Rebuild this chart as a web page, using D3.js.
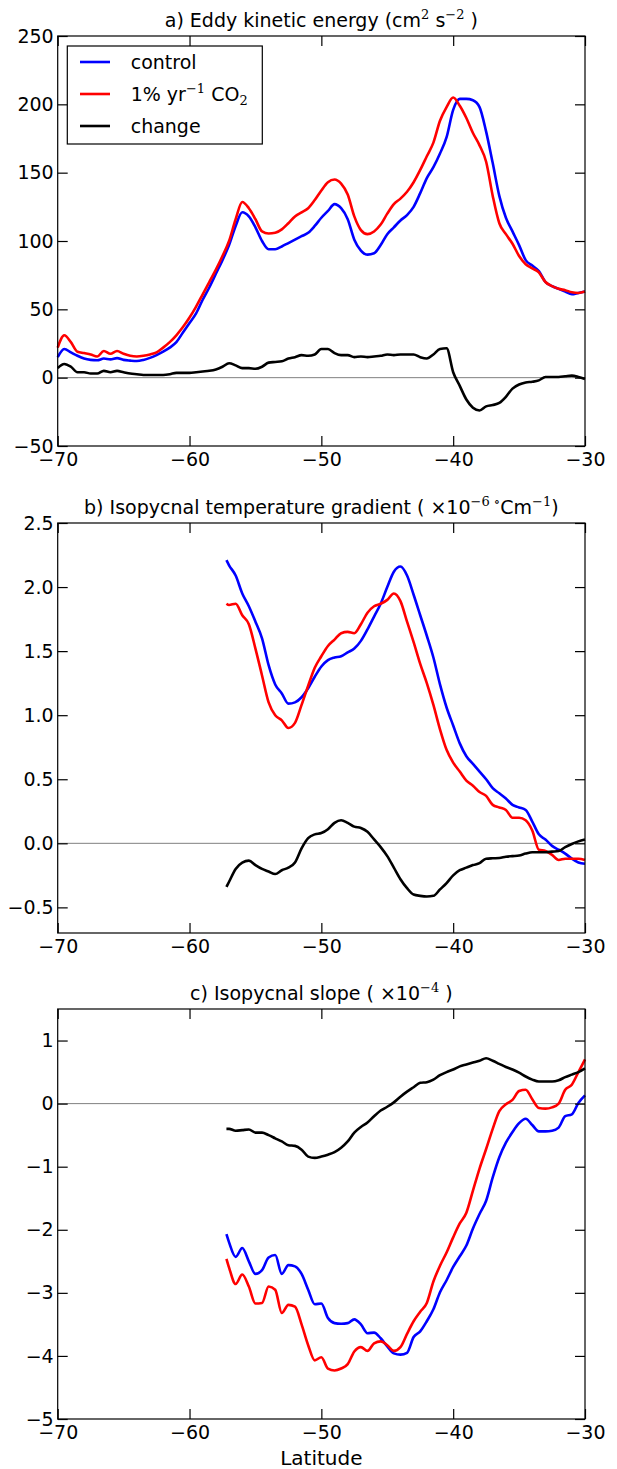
<!DOCTYPE html>
<html>
<head>
<meta charset="utf-8">
<script src="https://cdn.jsdelivr.net/npm/d3@7"></script>
<style>
  body { margin: 0; background: #fff; }
  svg { font-family: "DejaVu Sans", sans-serif; }
</style>
</head>
<body>
<div id="chart"></div>
<script>
// latitude grids
const latA = [-70,-69.5,-69,-68.5,-68,-67.5,-67,-66.5,-66,-65.5,-65,-64.5,-64,-63.5,-63,-62.5,-62,-61.5,-61,-60.5,
  -60,-59.5,-59,-58.5,-58,-57.5,-57,-56.5,-56,-55.5,-55,-54.5,-54,-53.5,-53,-52.5,-52,-51.5,-51,-50.5,
  -50,-49.5,-49,-48.5,-48,-47.5,-47,-46.5,-46,-45.5,-45,-44.5,-44,-43.5,-43,-42.5,-42,-41.5,-41,-40.5,
  -40,-39.5,-39,-38.5,-38,-37.5,-37,-36.5,-36,-35.5,-35,-34.5,-34,-33.5,-33,-32.5,-32,-31.5,-31,-30.5,-30];
const latB = [-57.2,-57,-56.5,-56,-55.5,-55,-54.5,-54,-53.5,-53,-52.5,-52,-51.5,-51,-50.5,-50,-49.5,-49,-48.5,-48,
  -47.5,-47,-46.5,-46,-45.5,-45,-44.5,-44,-43.5,-43,-42.5,-42,-41.5,-41,-40.5,-40,-39.5,-39,-38.5,-38,
  -37.5,-37,-36.5,-36,-35.5,-35,-34.5,-34,-33.5,-33,-32.5,-32,-31.5,-31,-30.5,-30];
const latC = latB;

// a) eddy kinetic energy
const ekeControl = [15,21,18.5,16,14,13,12.7,14,13.4,14.3,
  13,12.5,12.2,13,14.5,16.5,19,22,26,33,
  40,47,57,66,76,86,97,111,121,118,
  110,100,94,94,96,98.5,101,103.5,106,111,
  117,122,127,124,116,101,93,90,91,97,
  105,110,115,119,125,135,146,154,164,176,
  196,204,204,203,198,180,157,133,117,107,
  97,86,82,78,70,67,65,63,61,62,
  63];
const ekeCO2 = [22,31,26,19,18,17,15.5,19.5,17.5,19.5,
  17.5,16,15.5,16,17,18.5,22,26,31,37,
  44,52,61,70,79,89,100,116,128.5,124,
  116,107,105.5,106,108.5,113,118,121,124,130,
  137,143,145,142,134,118,108,105,107,112,
  120,127,131,136,143,152,162,172,188,198,
  205,199,190,179,170,158,133,113,105,98,
  89,83,80,77,70,67,65,64,62.5,62,
  63];
const ekeChange = [7,10,8,4,4,3,3,5,4,5,
  4,3,2.5,2,2,2,2,2.5,3.5,3.5,
  3.5,4,4.5,5,6,8,10.5,9,7,7,
  6.5,8,11,11.5,12,14,15,16.5,16,17,
  21,21,18,16.5,16.5,15,15.5,15,15.5,16,
  17,16.5,17,17,17,15,14,17,21,21.5,
  4,-6,-16,-22,-24,-21,-20,-18.5,-14,-8,
  -5,-3.5,-3,-2,0.5,0.5,0.5,1,1.5,0.5,
  -1];

// b) isopycnal temperature gradient
const gradControl = [2.21,
  2.17,2.09,1.95,1.85,1.73,1.60,1.39,1.24,1.17,1.09,
  1.10,1.14,1.21,1.30,1.38,1.43,1.45,1.46,1.49,1.52,
  1.58,1.67,1.77,1.87,2.00,2.12,2.16,2.09,1.94,1.78,
  1.62,1.45,1.24,1.06,0.92,0.78,0.68,0.62,0.56,0.50,
  0.43,0.39,0.35,0.30,0.28,0.26,0.17,0.07,0.03,-0.02,
  -0.05,-0.08,-0.12,-0.15,-0.16];
const gradCO2 = [1.87,
  1.86,1.87,1.78,1.71,1.52,1.31,1.10,1.00,0.96,0.90,
  0.94,1.08,1.23,1.37,1.46,1.54,1.59,1.64,1.65,1.64,
  1.71,1.80,1.85,1.87,1.90,1.95,1.89,1.73,1.57,1.40,
  1.25,1.08,0.89,0.73,0.63,0.56,0.49,0.45,0.40,0.37,
  0.30,0.28,0.26,0.20,0.20,0.18,0.10,-0.05,-0.06,-0.09,
  -0.13,-0.12,-0.12,-0.12,-0.13];
const gradChange = [-0.34,
  -0.30,-0.20,-0.15,-0.135,-0.17,-0.20,-0.22,-0.24,-0.21,-0.19,
  -0.15,-0.04,0.04,0.07,0.08,0.11,0.16,0.18,0.16,0.13,
  0.12,0.09,0.03,-0.03,-0.10,-0.19,-0.28,-0.35,-0.40,-0.41,
  -0.415,-0.41,-0.36,-0.31,-0.25,-0.21,-0.19,-0.17,-0.155,-0.12,
  -0.117,-0.115,-0.105,-0.10,-0.095,-0.08,-0.07,-0.07,-0.07,-0.065,
  -0.06,-0.03,-0.005,0.015,0.03];

// c) isopycnal slope
const slopeControl = [-2.07,
  -2.20,-2.43,-2.29,-2.50,-2.70,-2.64,-2.44,-2.40,-2.70,-2.56,
  -2.58,-2.70,-2.95,-3.18,-3.17,-3.40,-3.48,-3.49,-3.48,-3.42,
  -3.50,-3.64,-3.63,-3.72,-3.85,-3.96,-3.98,-3.95,-3.70,-3.61,
  -3.45,-3.26,-2.99,-2.80,-2.59,-2.42,-2.25,-1.98,-1.75,-1.54,
  -1.17,-0.85,-0.62,-0.45,-0.31,-0.24,-0.34,-0.44,-0.44,-0.43,
  -0.38,-0.20,-0.17,0.01,0.13];
const slopeCO2 = [-2.46,
  -2.60,-2.86,-2.71,-2.90,-3.17,-3.16,-2.90,-2.95,-3.32,-3.19,
  -3.22,-3.50,-3.83,-4.07,-4.02,-4.20,-4.23,-4.20,-4.13,-3.93,
  -3.86,-3.92,-3.80,-3.77,-3.83,-3.92,-3.86,-3.65,-3.45,-3.30,
  -3.16,-2.82,-2.57,-2.36,-2.12,-1.90,-1.73,-1.38,-1.03,-0.72,
  -0.40,-0.12,-0.01,0.06,0.20,0.22,0.07,-0.07,-0.08,-0.06,
  0.0,0.22,0.30,0.50,0.70];
const slopeChange = [-0.40,
  -0.40,-0.43,-0.42,-0.41,-0.46,-0.46,-0.50,-0.55,-0.60,-0.66,
  -0.67,-0.73,-0.84,-0.86,-0.84,-0.81,-0.77,-0.70,-0.60,-0.46,
  -0.37,-0.30,-0.20,-0.11,-0.05,0.02,0.11,0.19,0.26,0.33,
  0.34,0.38,0.45,0.50,0.54,0.59,0.62,0.65,0.68,0.72,
  0.68,0.63,0.58,0.54,0.49,0.43,0.38,0.35,0.35,0.35,
  0.37,0.42,0.46,0.50,0.56];

// ticks
const xTicks = [-70, -60, -50, -40, -30];
const ekeTicks = [-50, 0, 50, 100, 150, 200, 250];
const gradTicks = [-0.5, 0, 0.5, 1, 1.5, 2, 2.5];
const slopeTicks = [-5, -4, -3, -2, -1, 0, 1];

const width = 617, height = 1469;
const plot = {left: 57.7, right: 585, h: 410};
const fs = 19;
const colors = {control: '#0000ff', co2: '#ff0000', change: '#000000'};

const svg = d3.select('#chart').append('svg')
  .attr('width', width).attr('height', height);

const x = d3.scaleLinear().domain([-70, -30]).range([plot.left, plot.right]);

// text with super/subscripts, parts = [[text, 'sup'|'sub'|undefined], ...]
function richText(sel, parts) {
  let shift = 0;
  parts.forEach(([t, kind]) => {
    const target = kind === 'sup' ? -8 : kind === 'sub' ? 4 : 0;
    const ts = sel.append('tspan').text(t).attr('dy', target - shift);
    if (kind) ts.attr('font-size', 13).attr('font-family', '"DejaVu Serif", serif');
    shift = target;
  });
}

function drawPanel(top, yDomain, yTicks, fmt, lat, series, title) {
  const y = d3.scaleLinear().domain(yDomain).range([top + plot.h, top]);
  const g = svg.append('g');

  g.append('line')
    .attr('x1', plot.left).attr('x2', plot.right)
    .attr('y1', y(0)).attr('y2', y(0))
    .attr('stroke', '#808080').attr('stroke-width', 1);

  const line = d3.line()
    .x((d, i) => x(lat[i]))
    .y(d => y(d))
    .curve(d3.curveMonotoneX);

  series.forEach(s => {
    g.append('path')
      .datum(s.values)
      .attr('d', line)
      .attr('fill', 'none')
      .attr('stroke', s.color)
      .attr('stroke-width', 2.6)
      .attr('stroke-linejoin', 'round');
  });

  const bottom = g.append('g').attr('transform', `translate(0,${top + plot.h})`)
    .call(d3.axisBottom(x).tickValues(xTicks).tickSizeInner(-10).tickSizeOuter(0).tickPadding(7).tickFormat(d3.format('d')));
  const left = g.append('g').attr('transform', `translate(${plot.left},0)`)
    .call(d3.axisLeft(y).tickValues(yTicks).tickSizeInner(-10).tickSizeOuter(0).tickPadding(4).tickFormat(fmt));
  g.append('g').attr('transform', `translate(0,${top})`)
    .call(d3.axisTop(x).tickValues(xTicks).tickSizeInner(-10).tickSizeOuter(0).tickFormat(''));
  g.append('g').attr('transform', `translate(${plot.right},0)`)
    .call(d3.axisRight(y).tickValues(yTicks).tickSizeInner(-10).tickSizeOuter(0).tickFormat(''));

  g.selectAll('.domain').remove();
  g.selectAll('.tick line').attr('stroke', '#000').attr('stroke-width', 1.2);
  [bottom, left].forEach(a => a.selectAll('text')
    .attr('font-size', fs).attr('font-family', '"DejaVu Sans", sans-serif').attr('fill', '#000'));

  g.append('rect')
    .attr('x', plot.left).attr('y', top)
    .attr('width', plot.right - plot.left).attr('height', plot.h)
    .attr('fill', 'none').attr('stroke', '#000').attr('stroke-width', 1.2);

  const t = g.append('text')
    .attr('x', (plot.left + plot.right) / 2).attr('y', top - 9)
    .attr('text-anchor', 'middle').attr('font-size', fs);
  richText(t, title);
  return y;
}

drawPanel(36, [-50, 250], ekeTicks, d3.format('d'), latA, [
  {values: ekeControl, color: colors.control},
  {values: ekeCO2, color: colors.co2},
  {values: ekeChange, color: colors.change}
], [['a) Eddy kinetic energy (cm'], ['2', 'sup'], [' s'], ['\u22122', 'sup'], [' )']]);

drawPanel(523, [-0.7, 2.5], gradTicks, d3.format('.1f'), latB, [
  {values: gradControl, color: colors.control},
  {values: gradCO2, color: colors.co2},
  {values: gradChange, color: colors.change}
], [['b) Isopycnal temperature gradient ( \u00d710'], ['\u22126 \u2218', 'sup'], ['Cm'], ['\u22121', 'sup'], [')']]);

drawPanel(1009, [-5, 1.5], slopeTicks, d3.format('d'), latC, [
  {values: slopeControl, color: colors.control},
  {values: slopeCO2, color: colors.co2},
  {values: slopeChange, color: colors.change}
], [['c) Isopycnal slope ( \u00d710'], ['\u22124', 'sup'], [' )']]);

// legend (panel a)
const legend = svg.append('g');
legend.append('rect')
  .attr('x', 67.3).attr('y', 46).attr('width', 195).attr('height', 98)
  .attr('fill', '#fff').attr('stroke', '#000').attr('stroke-width', 1.2);
const legendItems = [
  {color: colors.control, label: [['control']]},
  {color: colors.co2, label: [['1% yr'], ['\u22121', 'sup'], ['  CO'], ['2', 'sub']]},
  {color: colors.change, label: [['change']]}
];
legendItems.forEach((d, i) => {
  const ly = 62 + i * 32;
  legend.append('line')
    .attr('x1', 80).attr('x2', 110).attr('y1', ly).attr('y2', ly)
    .attr('stroke', d.color).attr('stroke-width', 2.6);
  const t = legend.append('text')
    .attr('x', 130.7).attr('y', ly + 7).attr('font-size', fs);
  richText(t, d.label);
});

svg.append('text')
  .attr('x', (plot.left + plot.right) / 2).attr('y', 1465)
  .attr('text-anchor', 'middle').attr('font-size', 20)
  .text('Latitude');
</script>
</body>
</html>
